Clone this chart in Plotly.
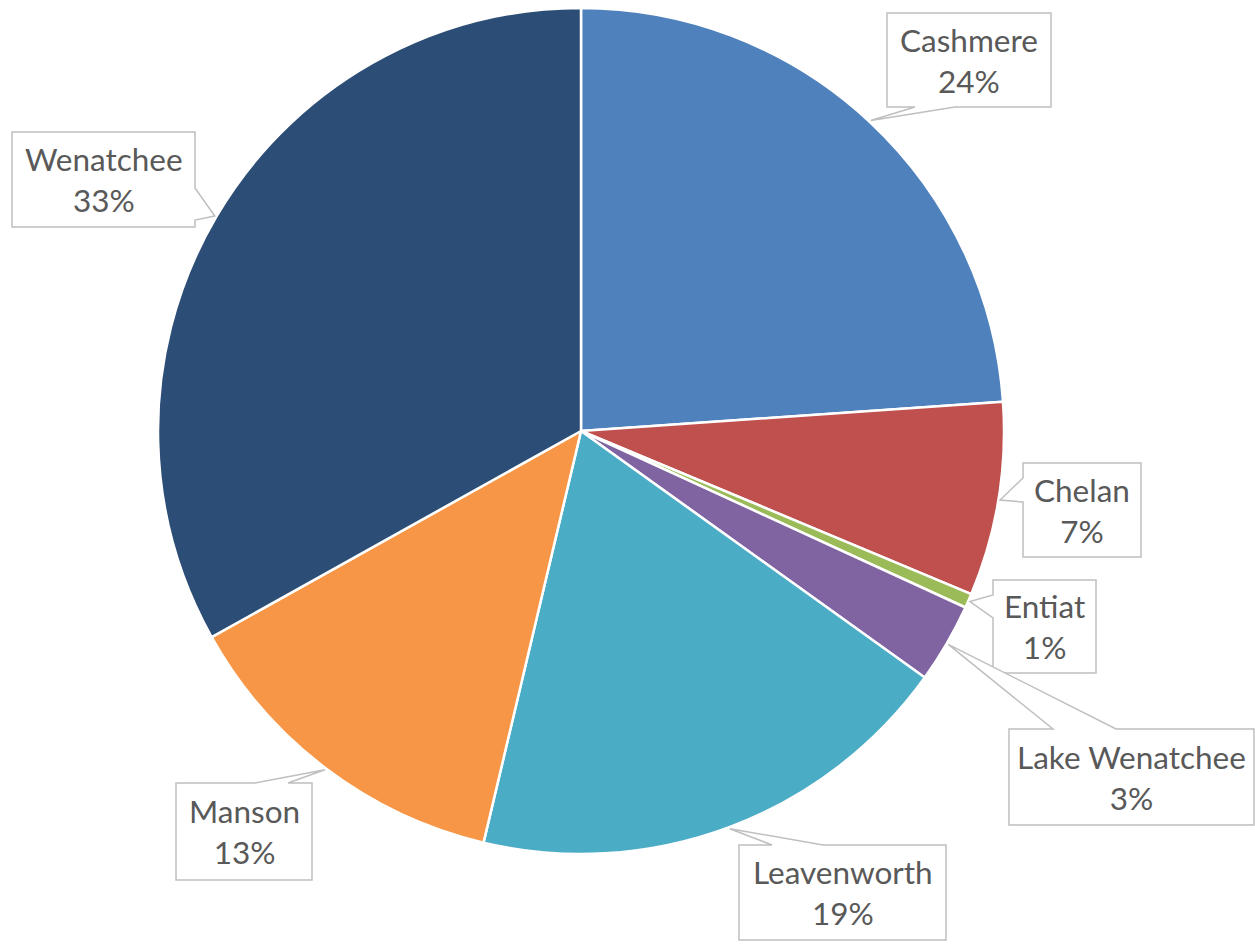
import math
import plotly.graph_objects as go

# Share of total by area (percent)
areas = ["Cashmere", "Chelan", "Entiat", "Lake Wenatchee", "Leavenworth", "Manson", "Wenatchee"]
shares = [23.9, 7.4, 0.55, 3.05, 18.8, 13.2, 33.1]
colors = ["#4F81BD", "#C0504D", "#9BBB59", "#8064A2", "#4BACC6", "#F79646", "#2C4D75"]

W, H = 1255, 944
CX, CY, R = 581, 431, 423  # pie centre and radius in pixels

# Callout boxes: (left, top, right, bottom, side of pointer, pointer base start, pointer base end)
callouts = {
    "Cashmere":       (887, 13, 1051, 107, "bottom", 915, 955),
    "Chelan":         (1023, 463, 1141, 557, "left", 478, 502),
    "Entiat":         (993, 580, 1096, 673, "left", 595, 618),
    "Lake Wenatchee": (1009, 729, 1254, 825, "top", 1053, 1116),
    "Leavenworth":    (739, 845, 946, 940, "top", 772, 823),
    "Manson":         (176, 783, 312, 880, "top", 255, 288),
    "Wenatchee":      (12, 132, 195, 227, "right", 188, 220),
}


def px(x, y):
    return x / W, 1 - y / H


def path_of(points):
    parts = []
    for i, (x, y) in enumerate(points):
        u, v = px(x, y)
        parts.append(("M" if i == 0 else "L") + f"{u:.5f},{v:.5f}")
    return " ".join(parts) + " Z"


fig = go.Figure(go.Pie(
    labels=areas,
    values=shares,
    sort=False,
    direction="clockwise",
    rotation=0,
    marker=dict(colors=colors, line=dict(color="white", width=2.5)),
    textinfo="none",
    hoverinfo="label+percent",
    domain=dict(x=[(CX - R) / W, (CX + R) / W], y=[1 - (CY + R) / H, 1 - (CY - R) / H]),
    showlegend=False,
))

total = sum(shares)
shapes, annotations = [], []
cum = 0.0
for name, val in zip(areas, shares):
    mid = (cum + val / 2) / total * 2 * math.pi
    cum += val
    tx = CX + R * 1.004 * math.sin(mid)
    ty = CY - R * 1.004 * math.cos(mid)
    x0, y0, x1, y1, side, a, b = callouts[name]
    if side == "top":
        pts = [(x0, y0), (a, y0), (tx, ty), (b, y0), (x1, y0), (x1, y1), (x0, y1)]
    elif side == "right":
        pts = [(x0, y0), (x1, y0), (x1, a), (tx, ty), (x1, b), (x1, y1), (x0, y1)]
    elif side == "bottom":
        pts = [(x0, y0), (x1, y0), (x1, y1), (b, y1), (tx, ty), (a, y1), (x0, y1)]
    else:
        pts = [(x0, y0), (x1, y0), (x1, y1), (x0, y1), (x0, b), (tx, ty), (x0, a)]
    shapes.append(dict(type="path", path=path_of(pts), xref="paper", yref="paper",
                       line=dict(color="#BFBFBF", width=1.5), fillcolor="white", layer="above"))
    pct = math.floor(val / total * 100 + 0.5)
    u, v = px((x0 + x1) / 2, (y0 + y1) / 2)
    annotations.append(dict(text=f"{name}<br>{pct}%", x=u, y=v, xref="paper", yref="paper",
                            xanchor="center", yanchor="middle", showarrow=False, align="center",
                            font=dict(family="Lato", size=31.5, color="#595959")))

fig.update_layout(
    width=W, height=H,
    margin=dict(l=0, r=0, t=0, b=0),
    paper_bgcolor="white",
    plot_bgcolor="white",
    shapes=shapes,
    annotations=annotations,
)

fig.write_html("out.html")
